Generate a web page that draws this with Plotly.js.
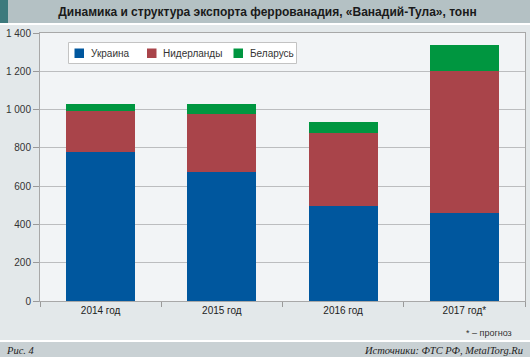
<!DOCTYPE html>
<html>
<head>
<meta charset="utf-8">
<script src="https://cdn.plot.ly/plotly-3.0.1.min.js"></script>
<style>
html,body{margin:0;padding:0;background:#e3e8ea;}
#chart{width:530px;height:357px;}
</style>
</head>
<body>
<div id="chart"></div>
<script>
const categories = ['2014 год', '2015 год', '2016 год', '2017 год*'];
const seriesNames = ['Украина', 'Нидерланды', 'Беларусь'];
const ukraine = [778, 675, 497, 459];
const netherlands = [217, 303, 382, 745];
const belarus = [34, 51, 54, 135];
const seriesColors = ['#00579e', '#a9444a', '#009640'];

const W = 530, H = 357;
const M = {l: 40, r: 5, t: 33, b: 56};
const PW = W - M.l - M.r, PH = H - M.t - M.b;
const px = x => (x - M.l) / PW;
const py = y => (H - M.b - y) / PH;

const values = [ukraine, netherlands, belarus];
const data = values.map((v, i) => ({
  type: 'bar',
  name: seriesNames[i],
  x: categories,
  y: v,
  marker: {color: seriesColors[i], line: {width: 0}},
  hoverinfo: 'skip'
}));

const rect = (x0, y0, x1, y1, color, layer, lineColor) => ({
  type: 'rect', xref: 'paper', yref: 'paper', layer: layer || 'below',
  x0: px(x0), x1: px(x1), y0: py(y1), y1: py(y0),
  fillcolor: color, line: lineColor ? {width: 1, color: lineColor} : {width: 0}
});

// custom legend (positions only; names/colours from the series arrays)
const legendSquareX = [74.5, 147, 233.5];
const legendTextX = [88.5, 160.5, 247.5];
const legendShapes = [rect(68.5, 42.5, 296.5, 63.5, '#ffffff', 'above', '#c3c3c3')];
const legendAnn = [];
seriesNames.forEach((n, i) => {
  legendShapes.push(rect(legendSquareX[i], 48.5, legendSquareX[i] + 9.5, 58, seriesColors[i], 'above'));
  legendAnn.push({text: n, xref: 'paper', yref: 'paper', x: px(legendTextX[i]), y: py(53.3),
    xanchor: 'left', yanchor: 'middle', showarrow: false,
    font: {size: 10, color: '#333'}});
});

const layout = {
  width: W, height: H,
  margin: M,
  paper_bgcolor: '#e3e8ea',
  plot_bgcolor: '#f2f4f6',
  separators: ', ',
  font: {family: 'Liberation Sans, Arial, sans-serif', size: 10, color: '#333'},
  barmode: 'stack',
  bargap: 0.43,
  showlegend: false,
  title: {
    text: 'Динамика и структура экспорта феррованадия, «Ванадий-Тула», тонн',
    font: {family: 'Liberation Sans, Arial, sans-serif', size: 12, color: '#1a1a1a', weight: 'bold'},
    xref: 'container', yref: 'container',
    x: 267.5 / W, y: 1 - 12 / H, xanchor: 'center', yanchor: 'middle'
  },
  xaxis: {
    type: 'category',
    tickson: 'boundaries',
    ticks: 'outside', ticklen: 5, tickcolor: '#9a9a9a',
    showline: true, linecolor: '#a8a8a8', linewidth: 1, mirror: true,
    showgrid: false,
    tickfont: {size: 10, color: '#222'},
    fixedrange: true
  },
  yaxis: {
    range: [0, 1400], dtick: 200, tickformat: ',d',
    ticks: 'outside', ticklen: 6, tickcolor: '#9a9a9a',
    showline: true, linecolor: '#a8a8a8', linewidth: 1, mirror: true,
    gridcolor: '#bcbdbf', gridwidth: 1,
    zeroline: false,
    tickfont: {size: 10, color: '#333'},
    fixedrange: true
  },
  shapes: [
    rect(0, 0, 530, 23, '#b4c1c4'),
    rect(0, 0, 8, 23, '#3d7a7d'),
    rect(0, 23, 530, 25, '#ffffff'),
    rect(0, 340, 530, 342, '#ffffff'),
    rect(0, 342, 530, 357, '#c9d1d4')
  ].concat(legendShapes),
  annotations: [
    {text: '* – прогноз', xref: 'paper', yref: 'paper', x: px(514), y: py(333),
     xanchor: 'right', yanchor: 'middle', showarrow: false,
     font: {size: 9, color: '#333'}},
    {text: '<i>Рис. 4</i>', xref: 'paper', yref: 'paper', x: px(4), y: py(350),
     xanchor: 'left', yanchor: 'middle', showarrow: false,
     font: {family: 'Liberation Serif, DejaVu Serif, serif', size: 10.5, color: '#222'}},
    {text: '<i>Источники: ФТС РФ, MetalTorg.Ru</i>', xref: 'paper', yref: 'paper', x: px(525), y: py(350),
     xanchor: 'right', yanchor: 'middle', showarrow: false,
     font: {family: 'Liberation Serif, DejaVu Serif, serif', size: 10.5, color: '#222'}}
  ].concat(legendAnn)
};

Plotly.newPlot('chart', data, layout, {displayModeBar: false, staticPlot: true});
</script>
</body>
</html>
